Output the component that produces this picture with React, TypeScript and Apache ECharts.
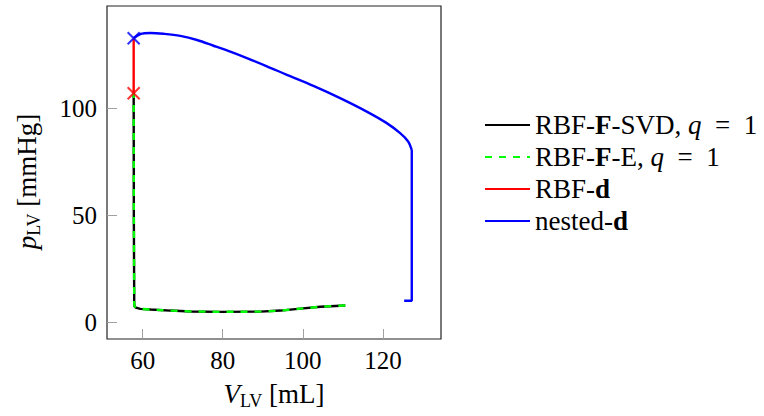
import React, { useEffect, useRef } from "react";
import * as echarts from "echarts";

// nested-d: ejection curve (smooth part) and the straight drop at the end
const blueCurveV = [57.76, 59.43, 61.92, 65.24, 69.4, 73.57, 77.71, 81.88, 86.03, 91.02, 96.01, 102.64, 109.3, 115.96, 120.95, 124.3, 126.3, 127.2];
const blueCurveP = [132.9, 134.9, 135.4, 135.0, 134.0, 132.1, 129.4, 126.6, 123.6, 119.8, 115.8, 110.6, 104.9, 98.6, 93.2, 88.5, 84.6, 80.7];
const blueDropV = [127.2, 127.2, 125.3];
const blueDropP = [80.7, 10.1, 10.1];

const redV = [57.76, 57.76];
const redP = [107.2, 132.9];

const fillV = [110.6, 104.4, 99.4, 94.4, 89.4, 79.4, 72.0, 66.9, 62.0, 59.4, 58.3, 57.95, 57.9, 57.8, 57.76];
const fillP = [7.9, 7.3, 6.4, 5.5, 5.0, 4.9, 5.1, 5.5, 6.0, 6.3, 6.9, 7.6, 9.0, 50.0, 107.2];

const redMarkV = [57.76];
const redMarkP = [107.2];
const blueMarkV = [57.76];
const blueMarkP = [132.9];

const xTicks = [60, 80, 100, 120];
const yTicks = [0, 50, 100];

const seriesNames = ["RBF-F-SVD, q = 1", "RBF-F-E, q = 1", "RBF-d", "nested-d"];
const legendLabels: Record<string, string> = {
  "RBF-F-SVD, q = 1": "RBF-{b|F}-SVD, {i|q}\u2002=\u20021",
  "RBF-F-E, q = 1": "RBF-{b|F}-E, {i|q}\u2002=\u20021",
  "RBF-d": "RBF-{b|d}",
  "nested-d": "nested-{b|d}",
};

const FONT = "Liberation Serif";
const zip = (a: number[], b: number[]) => a.map((v, i) => [v, b[i]]);
const XPATH = "path://M0,0L10,10M10,0L0,10";

export default function App() {
  const ref = useRef<HTMLDivElement>(null);
  useEffect(() => {
    if (!ref.current) return;
    const chart = echarts.init(ref.current, undefined, { renderer: "svg" });
    const axisLabelStyle = { fontFamily: FONT, fontSize: 25, color: "#000" };
    const nameStyle = {
      fontFamily: FONT,
      fontSize: 27,
      color: "#000",
      lineHeight: 32,
      rich: {
        i: { fontFamily: FONT, fontSize: 27, fontStyle: "italic", color: "#000", lineHeight: 32 },
        s: { fontFamily: FONT, fontSize: 18, color: "#000", lineHeight: 18, verticalAlign: "bottom" },
      },
    };
    chart.setOption({
      animation: false,
      backgroundColor: "#fff",
      grid: {
        left: 107,
        top: 6,
        width: 334,
        height: 333,
        show: true,
        borderColor: "#222",
        borderWidth: 1.2,
        backgroundColor: "transparent",
      },
      legend: {
        orient: "vertical",
        left: 484,
        top: 109,
        padding: 0,
        itemGap: 0,
        itemWidth: 45,
        itemHeight: 14,
        data: seriesNames,
        itemStyle: { opacity: 0 },
        formatter: (n: string) => legendLabels[n] || n,
        textStyle: {
          fontFamily: FONT,
          fontSize: 27,
          color: "#000",
          lineHeight: 32,
          rich: {
            b: { fontFamily: FONT, fontSize: 27, fontWeight: "bold", color: "#000", lineHeight: 32 },
            i: { fontFamily: FONT, fontSize: 27, fontStyle: "italic", color: "#000", lineHeight: 32 },
          },
        },
      },
      xAxis: {
        type: "value",
        min: 51.1,
        max: 134.5,
        name: "{i|V}{s|LV} [mL]",
        nameLocation: "middle",
        nameGap: 38,
        nameTextStyle: nameStyle,
        axisLine: { show: false, onZero: false },
        splitLine: { show: false },
        axisTick: {
          inside: true,
          length: 10,
          lineStyle: { color: "#a0a0a0", width: 1 },
          customValues: xTicks,
        },
        axisLabel: { ...axisLabelStyle, margin: 9, customValues: xTicks },
      },
      yAxis: {
        type: "value",
        min: -7.8,
        max: 148,
        name: "{i|p}{s|LV} [mmHg]",
        nameLocation: "middle",
        nameRotate: 90,
        nameGap: 64,
        nameTextStyle: { ...nameStyle, padding: [0, 18, 0, 0] },
        axisLine: { show: false, onZero: false },
        splitLine: { show: false },
        axisTick: {
          inside: true,
          length: 10,
          lineStyle: { color: "#a0a0a0", width: 1 },
          customValues: yTicks,
        },
        axisLabel: { ...axisLabelStyle, margin: 10, customValues: yTicks },
      },
      series: [
        {
          name: seriesNames[3],
          type: "line",
          data: zip(blueCurveV, blueCurveP),
          smooth: 0.35,
          showSymbol: false,
          symbol: "none",
          color: "#0000ff",
          lineStyle: { color: "#0000ff", width: 2.4 },
          z: 2,
        },
        {
          name: seriesNames[3],
          type: "line",
          data: zip(blueDropV, blueDropP),
          showSymbol: false,
          symbol: "none",
          color: "#0000ff",
          lineStyle: { color: "#0000ff", width: 2.4 },
          z: 2,
        },
        {
          name: seriesNames[0],
          type: "line",
          data: zip(fillV, fillP),
          showSymbol: false,
          symbol: "none",
          color: "#000",
          lineStyle: { color: "#000", width: 2.4 },
          z: 3,
        },
        {
          name: seriesNames[1],
          type: "line",
          data: zip(fillV, fillP),
          showSymbol: false,
          symbol: "none",
          color: "#00ff00",
          lineStyle: { color: "#00ff00", width: 2.4, type: [7, 7] },
          z: 4,
        },
        {
          name: seriesNames[2],
          type: "line",
          data: zip(redV, redP),
          showSymbol: false,
          symbol: "none",
          color: "#ff0000",
          lineStyle: { color: "#ff0000", width: 2.4 },
          z: 5,
        },
        {
          type: "scatter",
          data: zip(redMarkV, redMarkP),
          symbol: XPATH,
          symbolSize: 12,
          itemStyle: { color: "none", borderColor: "#ff0000", borderWidth: 2 },
          z: 6,
        },
        {
          type: "scatter",
          data: zip(blueMarkV, blueMarkP),
          symbol: XPATH,
          symbolSize: 12,
          itemStyle: { color: "none", borderColor: "#0000ff", borderWidth: 2 },
          z: 6,
        },
      ],
    });
    return () => chart.dispose();
  }, []);
  return (
    <div
      ref={ref}
      style={{ position: "fixed", left: 0, top: 0, width: 764, height: 416 }}
    />
  );
}
